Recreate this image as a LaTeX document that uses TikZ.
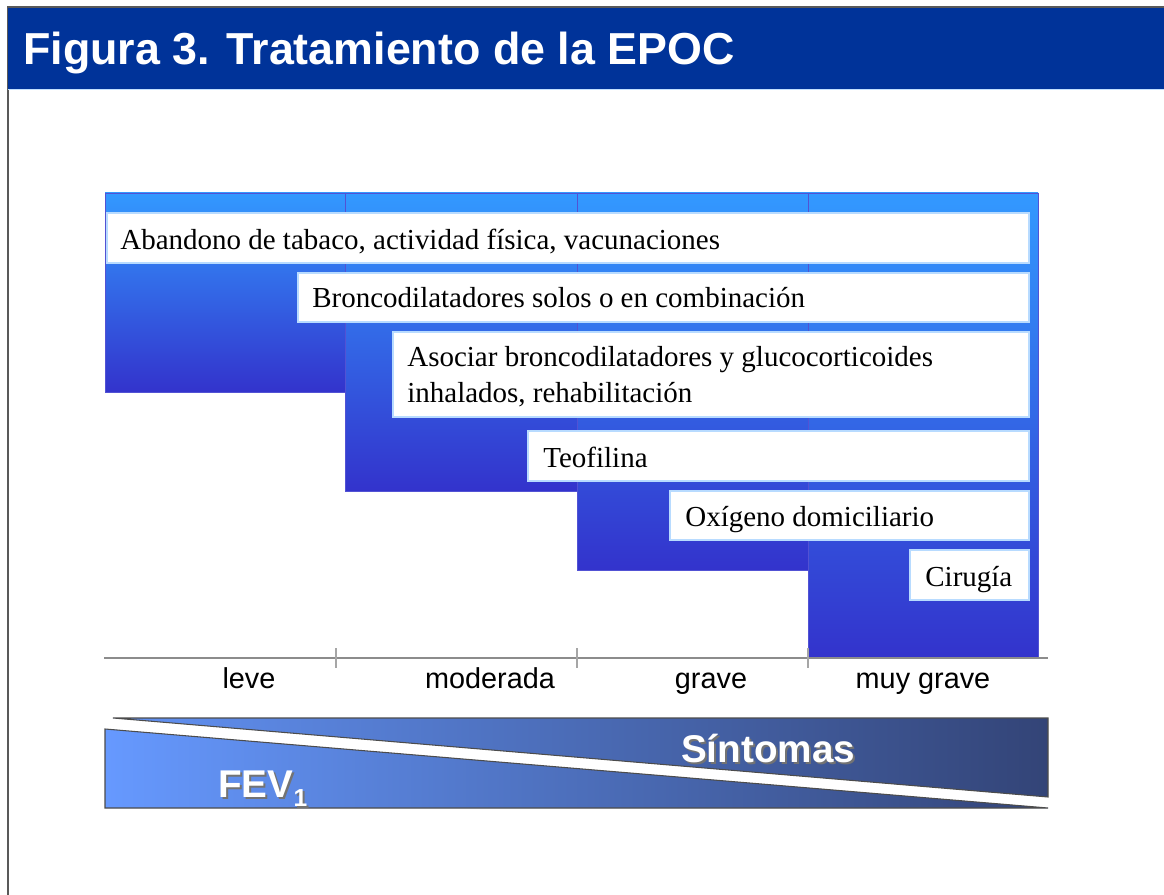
\documentclass[tikz,border=0pt]{standalone}
\usepackage{fontspec}
\setmainfont{Liberation Serif}
\setsansfont{Liberation Sans}
\definecolor{barblue}{HTML}{003399}
\definecolor{coltop}{HTML}{3399FF}
\definecolor{colbot}{HTML}{3333CC}
\definecolor{bandleft}{HTML}{6699FF}
\definecolor{bandright}{HTML}{334477}
\tikzset{
	column/.style={top color=coltop,bottom color=colbot,draw=colbot!85!white,line width=0.5pt},
	treatbox/.style={fill=white,draw=coltop!35!white,line width=0.7pt},
	treat/.style={font=\fontsize{16.5}{19}\selectfont,anchor=base west,inner sep=0pt},
	stage/.style={font=\sffamily\fontsize{16.4}{19}\selectfont,anchor=base,inner sep=0pt},
	bandtext/.style={font=\sffamily\bfseries\fontsize{22}{26}\selectfont,text=white,inner sep=0pt},
	bandshadow/.style={bandtext,text=black!55},
}
\begin{document}
\begin{tikzpicture}[x=0.02cm,y=-0.02cm]
		\useasboundingbox[fill=white] (0,0) rectangle (1164,895);
		% frame and title
		\draw[black!65,line width=0.8pt] (8,895)--(8,7)--(1164,7);
		\fill[barblue] (8,8) rectangle (1164,89);
		\draw[coltop!30!white,line width=0.6pt] (8,89.5)--(1164,89.5);
		\node[anchor=base west,inner sep=0pt,text=white,font=\sffamily\bfseries\fontsize{25.5}{30}\selectfont] (title) at (23,65) {Figura 3. Tratamiento de la EPOC};
		% stepped columns
		\shade[column] (105,193) rectangle (345,392);
		\shade[column] (345,193) rectangle (577,491);
		\shade[column] (577,193) rectangle (808,570);
		\shade[column] (808,193) rectangle (1038,658);
		% treatments
		\filldraw[treatbox] (107,213) rectangle (1029,263);
		\filldraw[treatbox] (298,273) rectangle (1029,322);
		\filldraw[treatbox] (393,332) rectangle (1029,417);
		\filldraw[treatbox] (528,431) rectangle (1029,481);
		\filldraw[treatbox] (670,491) rectangle (1029,540);
		\filldraw[treatbox] (910,550) rectangle (1029,600);
		\node[treat] (abandono) at (120,250) {Abandono de tabaco, actividad física, vacunaciones};
		\node[treat] (bronco) at (312,308) {Broncodilatadores solos o en combinación};
		\node[treat] (asociar) at (407,367) {Asociar broncodilatadores y glucocorticoides};
		\node[treat] (inhalados) at (407,403) {inhalados, rehabilitación};
		\node[treat] (teofilina) at (543,467) {Teofilina};
		\node[treat] (oxigeno) at (685,526) {Oxígeno domiciliario};
		\node[treat] (cirugia) at (925,586) {Cirugía};
		% severity axis
		\draw[black!45,line width=0.7pt] (104,658)--(1048,658);
		\foreach \x in {336,577,808}
			\draw[black!35,line width=0.7pt] (\x,648)--(\x,668);
		\node[stage] (leve) at (249,688) {leve};
		\node[stage] (moderada) at (490,688) {moderada};
		\node[stage] (grave) at (711,688) {grave};
		\node[stage] (muygrave) at (923,688) {muy grave};
		% symptoms and FEV1 wedges
		\shade[left color=bandleft!92!bandright,right color=bandright,draw=black!70,line width=0.6pt] (113,718)--(1048,718)--(1048,797)--cycle;
		\shade[left color=bandleft,right color=bandright,draw=black!70,line width=0.6pt] (105,729)--(1048,808)--(105,808)--cycle;
		\node[bandshadow,anchor=base] (sintomas-s) at (770,764) {Síntomas};
		\node[bandtext,anchor=base] (sintomas) at (768,762) {Síntomas};
		\node[bandshadow,anchor=base west] (fev-s) at (220,799) {FEV\raisebox{-0.45ex}{\fontsize{14}{16}\selectfont 1}};
		\node[bandtext,anchor=base west] (fev) at (218,797) {FEV\raisebox{-0.45ex}{\fontsize{14}{16}\selectfont 1}};
	\end{tikzpicture}
\end{document}
